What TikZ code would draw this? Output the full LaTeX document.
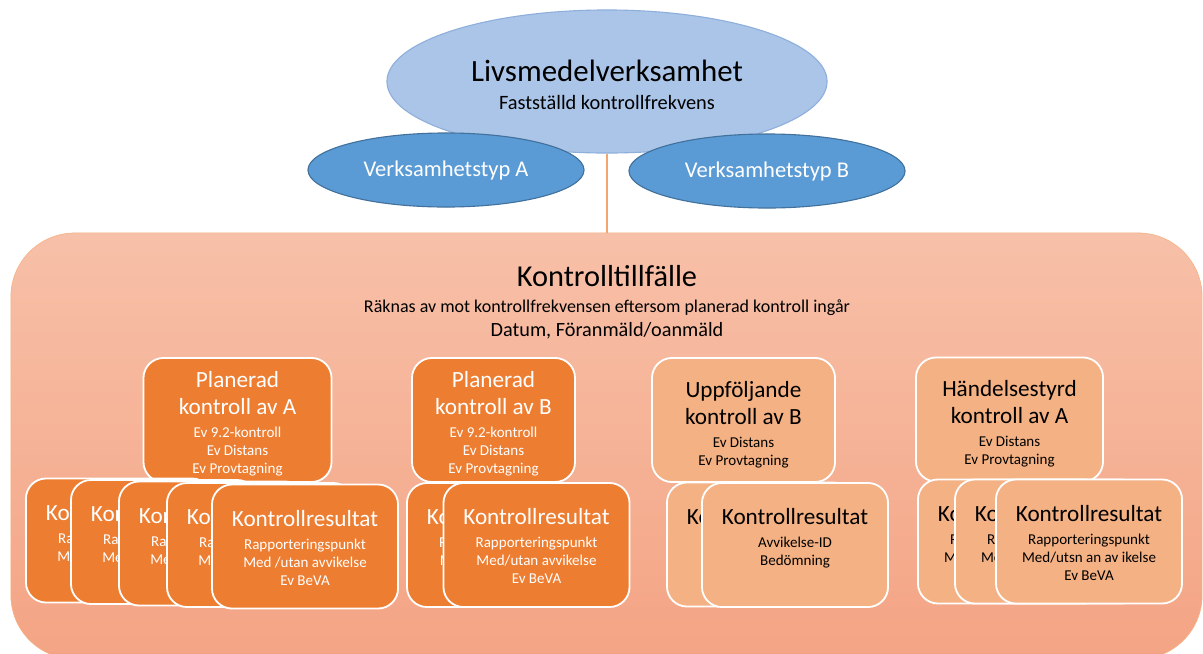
\documentclass[tikz,border=0pt]{standalone}
\usepackage{fontspec}
\setmainfont{Carlito}
\usepackage{xcolor}
\usepackage{tikz}
\usetikzlibrary{shapes.geometric}
\usetikzlibrary{positioning}

\definecolor{ljusbla}{RGB}{170,197,232}
\definecolor{ljusblakant}{RGB}{143,175,219}
\definecolor{mellanbla}{RGB}{91,155,213}
\definecolor{mellanblakant}{RGB}{65,113,156}
\definecolor{morkorange}{RGB}{237,125,49}
\definecolor{ljusorange}{RGB}{244,177,131}
\definecolor{bgtopp}{RGB}{247,192,168}
\definecolor{bgbotten}{RGB}{244,164,132}

\newcommand{\boxfont}{\fontsize{10.7}{0}\selectfont\lineskip=0pt\lineskiplimit=0pt}
\newcommand{\storrad}{\fontsize{16.5}{16.5}\selectfont\rule[-6.6pt]{0pt}{19.2pt}}
\newcommand{\litenrad}{\rule[-3pt]{0pt}{12.8pt}}
\newcommand{\topp}[1]{\rule{0pt}{#1}}

\tikzset{
    verksamhet/.style = {ellipse, draw=ljusblakant, fill=ljusbla, thick, inner sep=0pt, align=center, font=\fontsize{14.5}{19.6}\selectfont, minimum width=11cm, minimum height=3.575cm},
    typnode/.style = {ellipse, draw=mellanblakant, fill=mellanbla, thick, inner sep=0pt, text=white, font=\fontsize{16}{19}\selectfont, minimum width=6.9cm, minimum height=1.85cm},
    morkbox/.style = {rectangle, rounded corners=0.5cm, draw=white, line width=1.3pt, fill=morkorange, text=white, align=center, inner sep=0pt, minimum width=4.65cm, minimum height=3.1cm, font=\boxfont},
    ljusbox/.style = {morkbox, fill=ljusorange, text=black},
}

\begin{document}
\begin{tikzpicture}[x=0.025cm, y=-0.025cm]
\useasboundingbox (0,0) rectangle (1203,653);
% verksamheten
\node[verksamhet] (lv) at (607,81.5) {{\fontsize{22}{22}\selectfont\topp{20pt}Livsmedelverksamhet}\\Fastställd kontrollfrekvens};
\node[typnode] (typa) at (446,170) {Verksamhetstyp A};
\node[typnode] (typb) at (767,171) {Verksamhetstyp B};
%
\node[rectangle, rounded corners=1.6cm, draw=ljusorange, top color=bgtopp, bottom color=bgbotten, minimum width=29.775cm, minimum height=10.65cm] (tillfalle) at (606.5,446) {};
\draw[morkorange!70, line width=0.8pt] (lv.south) -- (lv.south |- tillfalle.north);
\node[align=center, font=\fontsize{12.8}{17}\selectfont] (rubrik) at (607,302) {{\fontsize{21.6}{21.6}\selectfont Kontrolltillfälle}\\[1.5pt]Räknas av mot kontrollfrekvensen eftersom planerad kontroll ingår\\{\fontsize{14.4}{17}\selectfont Datum, Föranmäld/oanmäld}};
%
\node[morkbox, minimum width=4.7cm] (planA) at (237.5,420) {{\storrad\topp{18.3pt}Planerad}\\{\storrad kontroll av A}\\\litenrad Ev 9.2-kontroll\\\litenrad Ev Distans\\\litenrad Ev Provtagning};
\node[morkbox] (resA1) at (119,540.5) {{\storrad\topp{16.2pt}Kontrollresultat}\\\litenrad Rapporteringspunkt\\\litenrad Med /utan avvikelse\\\litenrad Ev BeVA};
\node[morkbox] (resA2) at (164,542) {{\storrad\topp{16.2pt}Kontrollresultat}\\\litenrad Rapporteringspunkt\\\litenrad Med /utan avvikelse\\\litenrad Ev BeVA};
\node[morkbox] (resA3) at (212,543.5) {{\storrad\topp{16.2pt}Kontrollresultat}\\\litenrad Rapporteringspunkt\\\litenrad Med /utan avvikelse\\\litenrad Ev BeVA};
\node[morkbox] (resA4) at (260,545) {{\storrad\topp{16.2pt}Kontrollresultat}\\\litenrad Rapporteringspunkt\\\litenrad Med /utan avvikelse\\\litenrad Ev BeVA};
\node[morkbox] (resA5) at (305,546.5) {{\storrad\topp{16.2pt}Kontrollresultat}\\\litenrad Rapporteringspunkt\\\litenrad Med /utan avvikelse\\\litenrad Ev BeVA};
%
\node[morkbox, minimum width=4.075cm] (planB) at (493.5,420) {{\storrad\topp{18.3pt}Planerad}\\{\storrad kontroll av B}\\\litenrad Ev 9.2-kontroll\\\litenrad Ev Distans\\\litenrad Ev Provtagning};
\node[morkbox] (resB1) at (500,545) {{\storrad\topp{16.2pt}Kontrollresultat}\\\litenrad Rapporteringspunkt\\\litenrad Med/utan avvikelse\\\litenrad Ev BeVA};
\node[morkbox] (resB2) at (536.5,545) {{\storrad\topp{16.2pt}Kontrollresultat}\\\litenrad Rapporteringspunkt\\\litenrad Med/utan avvikelse\\\litenrad Ev BeVA};
%
\node[ljusbox, minimum width=4.575cm] (uppB) at (743.5,420) {{\storrad\topp{19pt}Uppföljande}\\{\storrad kontroll av B}\\\litenrad Ev Distans\\\litenrad Ev Provtagning};
\node[ljusbox] (resU1) at (760,544.5) {{\storrad\topp{16.2pt}Kontrollresultat}\\\litenrad Avvikelse-ID\\\litenrad Bedömning\\\litenrad};
\node[ljusbox] (resU2) at (795,545) {{\storrad\topp{16.2pt}Kontrollresultat}\\\litenrad Avvikelse-ID\\\litenrad Bedömning\\\litenrad};
%
\node[ljusbox, minimum width=4.675cm] (handA) at (1009.5,419.5) {{\storrad\topp{19pt}Händelsestyrd}\\{\storrad kontroll av A}\\\litenrad Ev Distans\\\litenrad Ev Provtagning};
\node[ljusbox] (resH1) at (1011,541.5) {{\storrad\topp{16.2pt}Kontrollresultat}\\\litenrad Rapporteringspunkt\\\litenrad Med/utsn an av ikelse\\\litenrad Ev BeVA};
\node[ljusbox] (resH2) at (1048,541.5) {{\storrad\topp{16.2pt}Kontrollresultat}\\\litenrad Rapporteringspunkt\\\litenrad Med/utsn an av ikelse\\\litenrad Ev BeVA};
\node[ljusbox] (resH3) at (1089,541.5) {{\storrad\topp{16.2pt}Kontrollresultat}\\\litenrad Rapporteringspunkt\\\litenrad Med/utsn an av ikelse\\\litenrad Ev BeVA};
\end{tikzpicture}
\end{document}
